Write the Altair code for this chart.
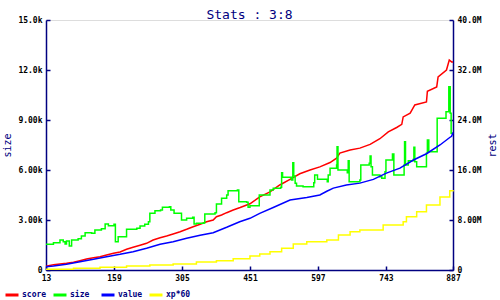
import altair as alt
import pandas as pd

NAVY = "#000080"
FONT = "DejaVu Sans Mono"

# ---- data (x = sample index) ----
score_x = [13, 29, 43, 57, 72, 86, 100, 115, 129, 143, 158, 172, 186, 200, 215, 229, 243, 258, 272,
           286, 301, 315, 329, 344, 358, 372, 379, 390, 401, 415, 430, 451, 472, 494, 515, 537, 558,
           580, 601, 623, 637, 644, 666, 687, 709, 730, 748, 766, 777, 780, 795, 805, 830, 832, 852,
           855, 873, 879, 884, 887]
score_m = [0.60, 0.85, 0.96, 1.07, 1.23, 1.49, 1.76, 1.97, 2.13, 2.40, 2.67, 2.88, 3.31, 3.63, 3.95,
           4.27, 4.80, 5.17, 5.44, 5.76, 6.13, 6.51, 6.93, 7.31, 7.73, 8.00, 8.53, 8.80, 9.17, 9.60,
           10.0, 10.6, 11.7, 12.5, 13.6, 14.5, 15.4, 16.0, 16.5, 17.2, 17.9, 18.7, 19.2, 19.5, 20.1,
           21.0, 22.1, 22.8, 23.3, 24.5, 25.1, 26.4, 26.9, 28.6, 29.3, 30.9, 32.0, 33.6, 33.3, 33.3]

size_x = [13, 29, 43, 50, 54, 57, 63, 68, 82, 89, 97, 111, 118, 132, 140, 147, 159, 162, 168, 186,
          208, 215, 225, 233, 236, 247, 259, 263, 278, 281, 288, 304, 315, 328, 331, 336, 352, 354,
          376, 379, 390, 401, 404, 424, 427, 444, 447, 451, 471, 494, 501, 517, 519, 521, 540, 543,
          545, 548, 551, 565, 588, 590, 596, 617, 619, 623, 637, 638, 640, 660, 662, 664, 687, 689,
          707, 709, 711, 714, 730, 734, 741, 743, 757, 760, 780, 782, 783, 785, 791, 802, 803, 805,
          809, 820, 830, 832, 835, 853, 872, 878, 881, 883, 887]
size_v = [1540, 1640, 1800, 1700, 1560, 1740, 1440, 1800, 1880, 2040, 2240, 2200, 2400, 2480, 2760,
          2660, 2740, 1700, 2000, 2440, 2500, 2640, 2740, 2900, 3400, 3560, 3600, 3760, 3800, 3600,
          3400, 3000, 3100, 3160, 2760, 2800, 2840, 3360, 3440, 3960, 4300, 4500, 4760, 4800, 4100,
          4060, 3760, 3860, 4500, 4800, 4900, 4960, 5840, 5560, 5400, 6440, 5640, 5200, 5040, 5000,
          5240, 5700, 5440, 5300, 5700, 6100, 6300, 7400, 6000, 5840, 6560, 5300, 5400, 6300, 6400,
          6840, 6200, 5700, 5600, 5500, 5900, 6600, 6960, 5700, 5700, 6300, 7700, 6300, 6560, 6640,
          7360, 6500, 6200, 6200, 7000, 7800, 7100, 9100, 9500, 11000, 9400, 8200, 8200]

value_x = [13, 29, 57, 86, 115, 143, 172, 200, 229, 258, 286, 315, 344, 372, 401, 429, 451, 472,
           501, 537, 573, 601, 616, 630, 658, 687, 716, 744, 773, 802, 830, 859, 880, 884, 887]
value_m = [0.53, 0.64, 0.91, 1.33, 1.71, 2.13, 2.51, 2.93, 3.47, 4.11, 4.53, 5.07, 5.55, 5.97, 6.83,
           7.73, 8.27, 9.07, 10.0, 11.2, 11.6, 12.0, 12.6, 13.1, 13.6, 13.9, 14.5, 15.5, 16.3, 17.6,
           18.6, 20.0, 21.2, 21.4, 22.0]

xp_x = [13, 72, 129, 186, 236, 286, 336, 379, 415, 451, 472, 494, 519, 544, 573, 616, 641, 666,
        687, 737, 780, 787, 809, 830, 859, 880, 887]
xp_m = [0.11, 0.27, 0.43, 0.64, 0.80, 0.96, 1.28, 1.49, 1.81, 2.24, 2.56, 2.93, 3.47, 4.16, 4.53,
        4.80, 5.60, 6.13, 6.40, 7.20, 7.73, 8.53, 9.33, 10.4, 11.7, 12.7, 12.8]

x_ticks = [13, 159, 305, 451, 597, 743, 887]
size_ticks = [0, 3000, 6000, 9000, 12000, 15000]
rest_ticks = [0, 8e6, 16e6, 24e6, 32e6, 40e6]

series = ["score", "size", "value", "xp*60"]
colors = ["#ff0000", "#00ff00", "#0000ff", "#ffff00"]

def frame(xs, vs, name, mult=1.0):
    return pd.DataFrame({"x": xs, "v": [v * mult for v in vs], "series": name})

df_score = frame(score_x, score_m, "score", 1e6)
df_size = frame(size_x, size_v, "size")
df_value = frame(value_x, value_m, "value", 1e6)
df_xp = frame(xp_x, xp_m, "xp*60", 1e6)

color = alt.Color("series:N", scale=alt.Scale(domain=series, range=colors),
                  legend=alt.Legend(title=None, orient="none", direction="horizontal",
                                    columns=4, legendX=-42, legendY=267,
                                    symbolType="stroke", symbolSize=169, symbolStrokeWidth=3,
                                    labelFont=FONT, labelFontSize=8, labelFontWeight="bold",
                                    labelColor=NAVY, labelOffset=2, columnPadding=0,
                                    gridAlign="all", padding=0))

lbl = "datum.value == 0 ? '0' : format(datum.value, '.3s')"
# main axes: domain line + labels, no ticks
main_axis = dict(domainColor=NAVY, domainWidth=1.5, ticks=False, tickSize=0,
                 labelFont=FONT, labelFontSize=8, labelFontWeight="bold",
                 labelColor="black", grid=False, titleFont=FONT, titleFontSize=10,
                 titleColor=NAVY, titleFontWeight="normal", labelPadding=4)
# tick-only axes shifted inward so that the ticks point into the plot
tick_axis = dict(domain=False, labels=False, ticks=True, tickSize=4, tickColor=NAVY,
                 tickWidth=1.5, grid=False, title=None, offset=-4)

xscale = alt.Scale(domain=[13, 887], nice=False, zero=False)
rest_scale = alt.Scale(domain=[0, 40e6], nice=False, zero=True)
size_scale = alt.Scale(domain=[0, 15000], nice=False, zero=True)

score = alt.Chart(df_score).mark_line(interpolate="linear", strokeWidth=1.5).encode(
    x=alt.X("x:Q", scale=xscale,
            axis=alt.Axis(orient="bottom", values=x_ticks, title=None, labelFlush=False,
                          labelOverlap=False, format="d", **main_axis)),
    y=alt.Y("v:Q", scale=rest_scale,
            axis=alt.Axis(orient="right", values=rest_ticks, labelExpr=lbl, title="rest",
                          titleAngle=270, titleX=39, titleY=125,
                          titleAlign="center", titleBaseline="middle", **main_axis)),
    color=color,
)

size = alt.Chart(df_size).mark_line(interpolate="step-after", strokeWidth=1.5).encode(
    x=alt.X("x:Q", scale=xscale,
            axis=alt.Axis(orient="bottom", values=x_ticks, **tick_axis)),
    y=alt.Y("v:Q", scale=size_scale,
            axis=alt.Axis(orient="left", values=size_ticks, labelExpr=lbl, title="size",
                          titleAngle=270, titleX=-39, titleY=125,
                          titleAlign="center", titleBaseline="middle", **main_axis)),
    color=color,
)

value = alt.Chart(df_value).mark_line(interpolate="linear", strokeWidth=1.5).encode(
    x=alt.X("x:Q", scale=xscale, axis=None),
    y=alt.Y("v:Q", scale=rest_scale,
            axis=alt.Axis(orient="left", values=rest_ticks, **tick_axis)),
    color=color,
)

xp = alt.Chart(df_xp).mark_line(interpolate="step-after", strokeWidth=1.5).encode(
    x=alt.X("x:Q", scale=xscale, axis=None),
    y=alt.Y("v:Q", scale=rest_scale,
            axis=alt.Axis(orient="right", values=rest_ticks, **tick_axis)),
    color=color,
)

chart = alt.layer(score, size, value, xp).resolve_scale(y="independent").resolve_axis(
    x="independent", y="independent").properties(
    width=407, height=250,
    title=alt.TitleParams("Stats : 3:8", font=FONT, fontSize=13, color=NAVY,
                          fontWeight="normal", anchor="middle", offset=0, dy=6),
    autosize=alt.AutoSizeParams(type="none"),
    padding={"left": 46, "top": 20, "right": 47, "bottom": 30},
).configure_view(stroke=None).configure(background="white")

chart.save("out.html", embed_options={"renderer": "svg", "actions": False})
